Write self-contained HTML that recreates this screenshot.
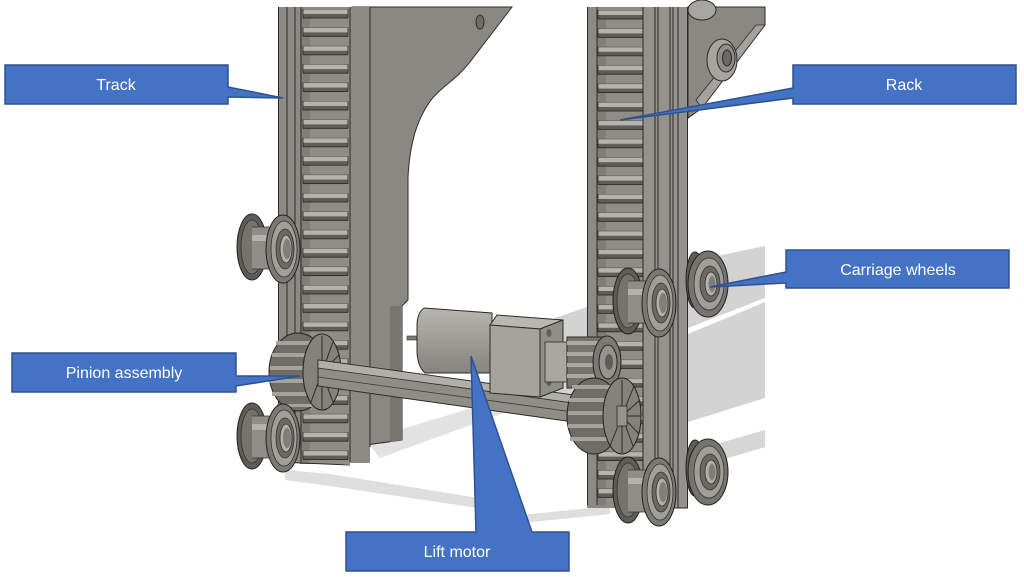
<!DOCTYPE html>
<html>
<head>
<meta charset="utf-8">
<style>
  html,body{margin:0;padding:0;background:#fff;}
  body{width:1024px;height:577px;overflow:hidden;position:relative;}
  svg{position:absolute;left:0;top:0;}
</style>
</head>
<body>
<svg width="1024" height="577" viewBox="0 0 1024 577" xmlns="http://www.w3.org/2000/svg">
  <defs>
    <pattern id="teethL" x="300" y="9" width="50" height="18.4" patternUnits="userSpaceOnUse">
      <rect x="0" y="0" width="50" height="18.4" fill="#8e8d87"/>
      <rect x="0" y="0" width="10" height="18.4" fill="#7f7e78"/>
      <rect x="3" y="0" width="45" height="5" fill="#b4b3ac"/>
      <rect x="3" y="5" width="45" height="4" fill="#615d55"/>
      <line x1="3" y1="0" x2="48" y2="0" stroke="#2b2b2b" stroke-width="0.8"/>
      <line x1="3" y1="9" x2="48" y2="9" stroke="#2b2b2b" stroke-width="0.8"/>
      <line x1="48" y1="0" x2="48" y2="9" stroke="#2b2b2b" stroke-width="0.8"/>
      <line x1="3" y1="0" x2="3" y2="9" stroke="#2b2b2b" stroke-width="0.8"/>
    </pattern>
    <pattern id="teethR" x="597" y="10" width="47" height="18.4" patternUnits="userSpaceOnUse">
      <rect x="0" y="0" width="47" height="18.4" fill="#8e8d87"/>
      <rect x="0" y="0" width="9" height="18.4" fill="#7f7e78"/>
      <rect x="1" y="0" width="45" height="5" fill="#b4b3ac"/>
      <rect x="1" y="5" width="45" height="4" fill="#615d55"/>
      <line x1="1" y1="0" x2="46" y2="0" stroke="#2b2b2b" stroke-width="0.8"/>
      <line x1="1" y1="9" x2="46" y2="9" stroke="#2b2b2b" stroke-width="0.8"/>
      <line x1="1" y1="0" x2="1" y2="9" stroke="#2b2b2b" stroke-width="0.8"/>
    </pattern>
    <linearGradient id="can" x1="0" y1="0" x2="0" y2="1">
      <stop offset="0" stop-color="#b7b6b0"/>
      <stop offset="0.45" stop-color="#a09f99"/>
      <stop offset="1" stop-color="#85847e"/>
    </linearGradient>
    <g id="wh">
      <ellipse cx="15" cy="34" rx="15" ry="33" fill="#5e5c56" stroke="#222" stroke-width="1"/>
      <ellipse cx="15" cy="34" rx="11" ry="27" fill="#75736d" stroke="#333" stroke-width="0.8"/>
      <rect x="15" y="14" width="30" height="42" fill="#8e8d87"/>
      <line x1="15" y1="14" x2="45" y2="14" stroke="#333" stroke-width="0.8"/>
      <line x1="15" y1="56" x2="45" y2="56" stroke="#333" stroke-width="0.8"/>
      <rect x="15" y="22" width="30" height="6" fill="#b3b2ac"/>
      <ellipse cx="46" cy="36" rx="17" ry="34" fill="#7b7973" stroke="#222" stroke-width="1"/>
      <ellipse cx="47" cy="36" rx="13" ry="28" fill="#a19f99" stroke="#333" stroke-width="0.8"/>
      <ellipse cx="48" cy="36" rx="9" ry="20" fill="#6b6963" stroke="#333" stroke-width="0.8"/>
      <ellipse cx="49" cy="36" rx="6" ry="14" fill="#b1b0aa" stroke="#333" stroke-width="0.8"/>
      <ellipse cx="50" cy="36" rx="4" ry="10" fill="#807e78"/>
    </g>
    <g id="wh2">
      <ellipse cx="9" cy="30" rx="9" ry="28" fill="#5e5c56" stroke="#222" stroke-width="1"/>
      <ellipse cx="22" cy="34" rx="20" ry="33" fill="#76746e" stroke="#222" stroke-width="1"/>
      <ellipse cx="23" cy="34" rx="15" ry="26" fill="#a09f99" stroke="#333" stroke-width="0.8"/>
      <ellipse cx="24" cy="34" rx="10" ry="18" fill="#6b6963" stroke="#333" stroke-width="0.8"/>
      <ellipse cx="25" cy="34" rx="6" ry="12" fill="#b0afa9" stroke="#333" stroke-width="0.8"/>
      <ellipse cx="26" cy="34" rx="3.5" ry="8" fill="#807e78"/>
    </g>
  </defs>

  <!-- shadows -->
  <polygon points="688,262 765,246 765,298 688,328" fill="#d3d3d3"/>
  <polygon points="688,334 765,302 765,398 688,422" fill="#d3d3d3"/>
  <polygon points="688,452 765,430 765,447 688,470" fill="#d6d6d6"/>
  <polygon points="555,318 590,306 590,395 555,400" fill="#d3d3d3"/>
  <polygon points="365,440 512,396 560,392 560,404 512,410 380,458" fill="#e2e2e2"/>
  <polygon points="285,470 330,474 478,498 478,508 330,486 285,480" fill="#dedede"/>
  <polygon points="512,516 610,506 610,514 512,524" fill="#dedede"/>

  <!-- left plate -->
  <path d="M352,7 L512,7 L470,62 C456,80 442,86 431,100 C418,118 410,140 408,177 L408,300 L402,306 L402,440 L352,447 Z" fill="#898882" stroke="#2b2b2b" stroke-width="1"/>
  <polygon points="390,306 402,306 402,440 390,442" fill="#76756f"/>
  <ellipse cx="480" cy="22" rx="4" ry="7" fill="#6e6d67" stroke="#2b2b2b" stroke-width="1"/>
  <ellipse cx="354" cy="352" rx="6" ry="8" fill="#7a7973" stroke="#2b2b2b" stroke-width="0.8"/>
  <ellipse cx="354" cy="413" rx="6" ry="8" fill="#7a7973" stroke="#2b2b2b" stroke-width="0.8"/>

  <!-- left column -->
  <rect x="278" y="7" width="92" height="456" fill="#8b8a84"/>
  <rect x="300" y="9" width="50" height="455" fill="url(#teethL)"/>
  <g stroke="#2b2b2b" stroke-width="1">
    <line x1="278.5" y1="7" x2="278.5" y2="462"/>
    <line x1="287" y1="7" x2="287" y2="462"/>
    <line x1="295" y1="7" x2="295" y2="462"/>
    <line x1="301" y1="7" x2="301" y2="462"/>
    <line x1="350" y1="7" x2="350" y2="462"/>
    <line x1="370" y1="7" x2="370" y2="447"/>
    <line x1="278" y1="462" x2="350" y2="465"/>
  </g>

  <!-- right plate -->
  <polygon points="688,7 765,7 765,25 702,108 688,118" fill="#898882" stroke="#2b2b2b" stroke-width="1"/>
  <polygon points="765,25 756,25 696,100 702,108" fill="#a3a29c" stroke="#2b2b2b" stroke-width="0.8"/>
  <ellipse cx="702" cy="10" rx="14" ry="10" fill="#a6a59f" stroke="#2b2b2b" stroke-width="1"/>
  <ellipse cx="722" cy="60" rx="15" ry="21" fill="#a6a59f" stroke="#2b2b2b" stroke-width="1"/>
  <ellipse cx="726" cy="58" rx="9" ry="14" fill="#8f8e88" stroke="#2b2b2b" stroke-width="1"/>
  <ellipse cx="727" cy="58" rx="4.5" ry="8" fill="#6a6963" stroke="#2b2b2b" stroke-width="1"/>

  <!-- right column -->
  <rect x="587" y="7" width="101" height="501" fill="#8b8a84"/>
  <rect x="597" y="10" width="47" height="495" fill="url(#teethR)"/>
  <rect x="644" y="7" width="44" height="501" fill="#93928c"/>
  <g stroke="#2b2b2b" stroke-width="1">
    <line x1="587.5" y1="7" x2="587.5" y2="505"/>
    <line x1="597" y1="7" x2="597" y2="505"/>
    <line x1="643" y1="7" x2="643" y2="508"/>
    <line x1="655" y1="7" x2="655" y2="508"/>
    <line x1="658" y1="7" x2="658" y2="508"/>
    <line x1="670" y1="7" x2="670" y2="508"/>
    <line x1="673" y1="7" x2="673" y2="508"/>
    <line x1="678" y1="7" x2="678" y2="508"/>
    <line x1="687.5" y1="7" x2="687.5" y2="508"/>
    <line x1="643" y1="508" x2="688" y2="508"/>
  </g>

  <!-- right-side wheels behind column edge -->
  <use href="#wh2" transform="translate(686,250)"/>
  <use href="#wh2" transform="translate(686,438)"/>

  <!-- left pinion -->
  <ellipse cx="298" cy="372" rx="29" ry="39" fill="#6f6d66" stroke="#222" stroke-width="1"/>
  <g fill="#a4a39c">
    <rect x="276" y="341" width="42" height="4"/>
    <rect x="272" y="353" width="46" height="4"/>
    <rect x="270" y="366" width="48" height="4"/>
    <rect x="270" y="379" width="48" height="4"/>
    <rect x="272" y="392" width="46" height="4"/>
    <rect x="277" y="404" width="40" height="3"/>
  </g>
  <ellipse cx="322" cy="372" rx="19" ry="38" fill="#83827c" stroke="#222" stroke-width="1"/>
  <g stroke="#2b2b2b" stroke-width="1">
    <line x1="322" y1="372" x2="322" y2="336"/>
    <line x1="322" y1="372" x2="333" y2="342"/>
    <line x1="322" y1="372" x2="339" y2="355"/>
    <line x1="322" y1="372" x2="340" y2="372"/>
    <line x1="322" y1="372" x2="339" y2="390"/>
    <line x1="322" y1="372" x2="333" y2="402"/>
    <line x1="322" y1="372" x2="322" y2="409"/>
    <line x1="322" y1="372" x2="311" y2="402"/>
  </g>

  <!-- shaft -->
  <polygon points="318,360 588,397 588,424 318,386" fill="#8e8d87" stroke="#2b2b2b" stroke-width="1"/>
  <polygon points="318,360 588,397 588,405 318,368" fill="#b0afa8" stroke="#2b2b2b" stroke-width="0.8"/>
  <line x1="318" y1="377" x2="588" y2="414" stroke="#3a3a3a" stroke-width="0.8"/>

  <!-- motor -->
  <rect x="407" y="336" width="11" height="4" fill="#7a7973" stroke="#333" stroke-width="0.6"/>
  <path d="M424,308 L492,313 L492,373 L425,373 Q417,366 417,350 L417,326 Q417,313 424,308 Z" fill="url(#can)" stroke="#2b2b2b" stroke-width="1"/>
  <polygon points="490,325 497,315 563,320 540,329" fill="#b8b7b1" stroke="#2b2b2b" stroke-width="1"/>
  <polygon points="490,325 540,329 540,397 490,393" fill="#a4a39d" stroke="#2b2b2b" stroke-width="1"/>
  <polygon points="540,329 563,320 563,388 540,397" fill="#8f8e88" stroke="#2b2b2b" stroke-width="1"/>
  <ellipse cx="549" cy="333" rx="2.5" ry="4" fill="#5f5e58"/>
  <ellipse cx="549" cy="382" rx="2.5" ry="4" fill="#5f5e58"/>

  <!-- coupling + motor pinion -->
  <rect x="545" y="342" width="24" height="40" fill="#a8a7a1" stroke="#2b2b2b" stroke-width="0.8"/>
  <rect x="567" y="337" width="40" height="51" fill="#75736d" stroke="#2b2b2b" stroke-width="1"/>
  <g fill="#a9a8a2">
    <rect x="567" y="341" width="38" height="4"/>
    <rect x="567" y="352" width="38" height="4"/>
    <rect x="567" y="363" width="38" height="4"/>
    <rect x="567" y="374" width="38" height="4"/>
  </g>
  <ellipse cx="607" cy="362" rx="14" ry="26" fill="#7b7973" stroke="#222" stroke-width="1"/>
  <ellipse cx="608" cy="362" rx="9" ry="17" fill="#95948e" stroke="#222" stroke-width="1"/>
  <ellipse cx="609" cy="362" rx="4" ry="8" fill="#5e5c56"/>

  <!-- right lower pinion -->
  <ellipse cx="594" cy="416" rx="27" ry="38" fill="#6f6d66" stroke="#222" stroke-width="1"/>
  <g fill="#a4a39c">
    <rect x="572" y="385" width="42" height="4"/>
    <rect x="569" y="398" width="46" height="4"/>
    <rect x="568" y="411" width="48" height="4"/>
    <rect x="568" y="424" width="48" height="4"/>
    <rect x="570" y="437" width="44" height="4"/>
  </g>
  <ellipse cx="622" cy="416" rx="19" ry="38" fill="#83827c" stroke="#222" stroke-width="1"/>
  <g stroke="#2b2b2b" stroke-width="1">
    <line x1="622" y1="416" x2="622" y2="380"/>
    <line x1="622" y1="416" x2="634" y2="386"/>
    <line x1="622" y1="416" x2="640" y2="400"/>
    <line x1="622" y1="416" x2="641" y2="416"/>
    <line x1="622" y1="416" x2="639" y2="434"/>
    <line x1="622" y1="416" x2="633" y2="446"/>
    <line x1="622" y1="416" x2="622" y2="453"/>
    <line x1="622" y1="416" x2="610" y2="446"/>
  </g>
  <rect x="617" y="406" width="10" height="20" fill="#95948e" stroke="#2b2b2b" stroke-width="0.8"/>

  <!-- front wheels -->
  <use href="#wh" transform="translate(237,213)"/>
  <use href="#wh" transform="translate(237,402)"/>
  <use href="#wh" transform="translate(613,267)"/>
  <use href="#wh" transform="translate(613,456)"/>

  <!-- callouts -->
  <g fill="#4472c4" stroke="#2f528f" stroke-width="1.5" stroke-linejoin="miter">
    <polygon points="5,65 228,65 228,87 283,98 228,97 228,104 5,104"/>
    <polygon points="793,65 1016,65 1016,104 793,104 793,98 620,120 793,88"/>
    <polygon points="786,250 1009,250 1009,288 786,288 786,283 710,287 786,272"/>
    <polygon points="12,353 236,353 236,376 300,376 236,386 236,392 12,392"/>
    <polygon points="346,532 476,532 471,356 532,532 569,532 569,571 346,571"/>
  </g>
  <g fill="#ffffff" font-family="'Liberation Sans', Arial, sans-serif" font-size="16" text-anchor="middle">
    <text x="116" y="90">Track</text>
    <text x="904" y="90">Rack</text>
    <text x="898" y="275">Carriage wheels</text>
    <text x="124" y="378">Pinion assembly</text>
    <text x="457" y="557">Lift motor</text>
  </g>
</svg>
</body>
</html>
